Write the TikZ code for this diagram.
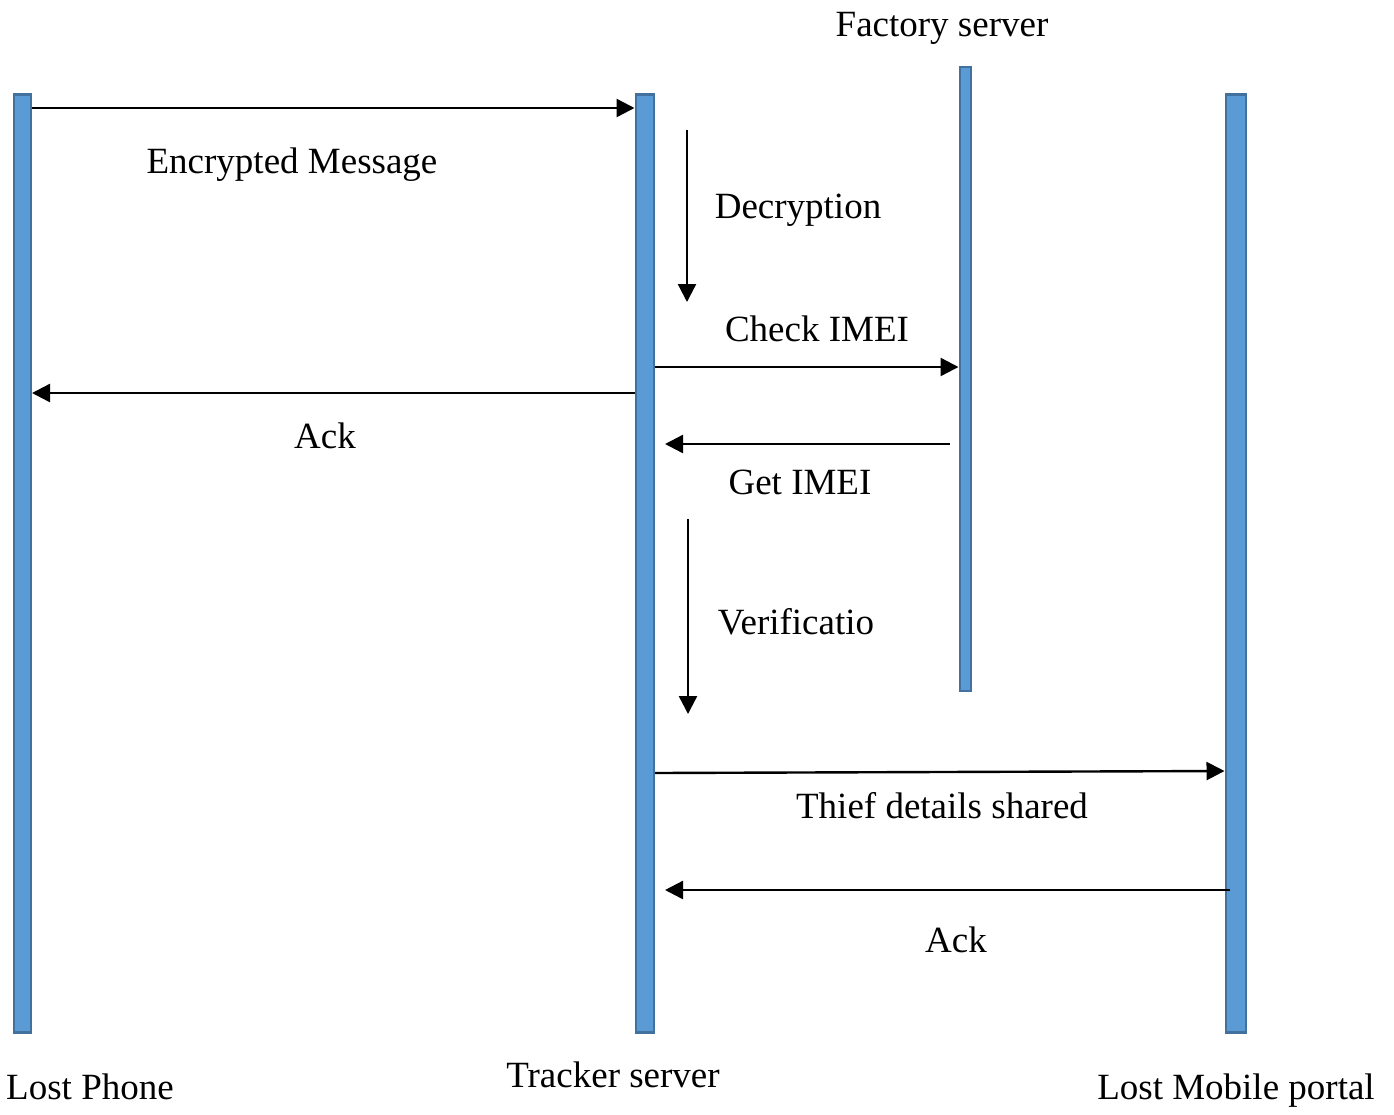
\documentclass[tikz,border=0pt]{standalone}
\usepackage{fontspec}
\setmainfont{Liberation Serif}
\usetikzlibrary{arrows.meta}
\definecolor{barfill}{HTML}{5B9BD5}
\definecolor{barline}{HTML}{41719C}
\begin{document}
\begin{tikzpicture}[x=1pt,y=-1pt,
  lifeline/.style={draw=barline,fill=barfill,line width=2.5pt,inner sep=0pt,
    rectangle,anchor=north west},
  msg/.style={line width=2.4pt,-{Triangle[length=18pt,width=18pt]}},
  lbl/.style={font=\fontsize{37}{44}\selectfont,anchor=base,inner sep=0pt}]
  \useasboundingbox[fill=white] (0,0) rectangle (1394,1114);

  % lifelines
  \node[lifeline,minimum width=17pt,minimum height=938pt] (lp) at (12.5,93) {};
  \node[lifeline,minimum width=18pt,minimum height=938pt] (tr) at (634.5,93) {};
  \node[lifeline,minimum width=11pt,minimum height=624pt] (fs) at (958.5,65.5) {};
  \node[lifeline,minimum width=20pt,minimum height=938pt] (mp) at (1224.5,93) {};

  % message end points
  \coordinate (encA) at (lp.east |- 0,108);
  \coordinate (encB) at (tr.west |- 0,108);
  \coordinate (decA) at (687,130);
  \coordinate (decB) at (687,302);
  \coordinate (chkA) at (655,367);
  \coordinate (chkB) at (fs.west |- 0,367);
  \coordinate (ackA) at (tr.west |- 0,393);
  \coordinate (ackB) at (lp.east |- 0,393);
  \coordinate (getA) at (950,444);
  \coordinate (getB) at (665,444);
  \coordinate (verA) at (688,519);
  \coordinate (verB) at (688,714);
  \coordinate (thfA) at (tr.east |- 0,773);
  \coordinate (thfB) at (mp.west |- 0,771);
  \coordinate (ak2A) at (1230,890);
  \coordinate (ak2B) at (665,890);

  % messages
  \draw[msg] (encA) -- (encB);
  \draw[msg] (decA) -- (decB);
  \draw[msg] (chkA) -- (chkB);
  \draw[msg] (ackA) -- (ackB);
  \draw[msg] (getA) -- (getB);
  \draw[msg] (verA) -- (verB);
  \draw[msg] (thfA) -- (thfB);
  \draw[msg] (ak2A) -- (ak2B);

  % labels
  \node[lbl] (tFs)  at (942,36)   {Factory server};
  \node[lbl] (tEnc) at (292,173)  {Encrypted Message};
  \node[lbl] (tDec) at (798,218)  {Decryption};
  \node[lbl] (tChk) at (817,341)  {Check IMEI};
  \node[lbl] (tAck) at (325,448)  {Ack};
  \node[lbl] (tGet) at (800,494)  {Get IMEI};
  \node[lbl] (tVer) at (796,634)  {Verificatio};
  \node[lbl] (tThf) at (942,818)  {Thief details shared};
  \node[lbl] (tAk2) at (956,952)  {Ack};
  \node[lbl] (tLp)  at (90,1099)  {Lost Phone};
  \node[lbl] (tTr)  at (613,1087) {Tracker server};
  \node[lbl] (tMp)  at (1236,1099) {Lost Mobile portal};
\end{tikzpicture}
\end{document}
